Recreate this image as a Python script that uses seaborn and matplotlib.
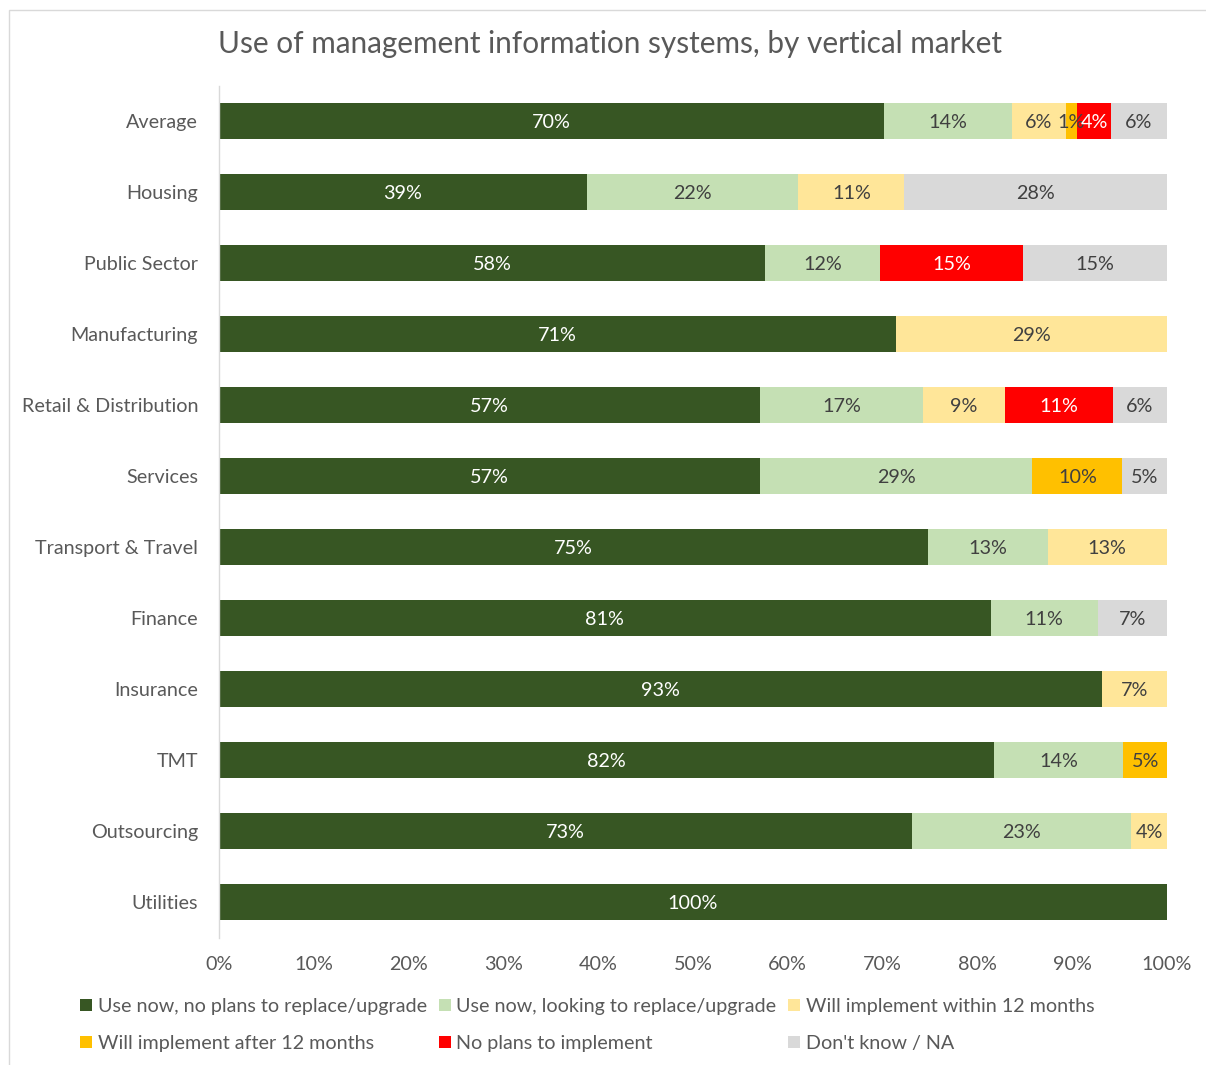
import matplotlib
matplotlib.use("Agg")
import matplotlib.pyplot as plt
import seaborn as sns
import numpy as np
from matplotlib.patches import Patch, Rectangle

categories = ["Average", "Housing", "Public Sector", "Manufacturing",
              "Retail & Distribution", "Services", "Transport & Travel",
              "Finance", "Insurance", "TMT", "Outsourcing", "Utilities"]
series_names = ["Use now, no plans to replace/upgrade",
                "Use now, looking to replace/upgrade",
                "Will implement within 12 months",
                "Will implement after 12 months",
                "No plans to implement",
                "Don't know / NA"]
use_no_plans = [70.1, 38.8, 57.6, 71.4, 57.1, 57.1, 74.8, 81.4, 93.1, 81.8, 73.1, 100.0]
use_replace = [13.6, 22.3, 12.1, 0.0, 17.2, 28.7, 12.6, 11.3, 0.0, 13.6, 23.1, 0.0]
within_12 = [5.6, 11.2, 0.0, 28.6, 8.6, 0.0, 12.6, 0.0, 6.9, 0.0, 3.8, 0.0]
after_12 = [1.2, 0.0, 0.0, 0.0, 0.0, 9.5, 0.0, 0.0, 0.0, 4.6, 0.0, 0.0]
no_plans = [3.6, 0.0, 15.1, 0.0, 11.4, 0.0, 0.0, 0.0, 0.0, 0.0, 0.0, 0.0]
dont_know = [5.9, 27.7, 15.2, 0.0, 5.7, 4.7, 0.0, 7.3, 0.0, 0.0, 0.0, 0.0]
x_ticks = [0, 10, 20, 30, 40, 50, 60, 70, 80, 90, 100]

colors = ["#375623", "#C5E0B4", "#FFE699", "#FFC000", "#FF0000", "#D9D9D9"]
label_colors = ["white", "#404040", "#404040", "#404040", "white", "#404040"]

sns.set_theme(style="white")
plt.rcParams["font.family"] = ["Lato", "DejaVu Sans"]

FS = 14.2

series = [use_no_plans, use_replace, within_12, after_12, no_plans, dont_know]
data = np.array(series)
cum = np.cumsum(data, axis=0)

fig = plt.figure(figsize=(12.06, 10.65), dpi=100)
ax = fig.add_axes([219/1206, 127.5/1065, 948/1206, 852/1065])

for k in reversed(range(len(series))):
    sns.barplot(x=list(cum[k]), y=categories, color=colors[k], width=0.5,
                orient="h", ax=ax, saturation=1, edgecolor="none", linewidth=0)

for k in range(len(series)):
    for i, v in enumerate(series[k]):
        if v > 0:
            center = cum[k][i] - v / 2
            ax.text(center, i, f"{int(np.floor(v + 0.5))}%", ha="center",
                    va="center_baseline", color=label_colors[k], fontsize=FS)

ax.set_xlim(0, 100)
ax.set_xticks(x_ticks)
ax.set_xticklabels([f"{t}%" for t in x_ticks])
ax.set_xlabel("")
ax.set_ylabel("")
ax.tick_params(axis="both", length=0, labelsize=FS, colors="#595959")
ax.tick_params(axis="x", pad=13)
ax.tick_params(axis="y", pad=15)
for s in ["top", "right", "bottom"]:
    ax.spines[s].set_visible(False)
ax.spines["left"].set_color("#D9D9D9")
ax.spines["left"].set_linewidth(1)
ax.grid(False)

fig.text(610/1206, 1 - 44/1065, "Use of management information systems, by vertical market",
         ha="center", va="center", fontsize=21.4, color="#595959")

order = [0, 3, 1, 4, 2, 5]
handles = [Patch(facecolor=colors[i], edgecolor="none") for i in order]
labels = [series_names[i] for i in order]
leg = fig.legend(handles, labels, ncol=3, loc="upper left",
                 bbox_to_anchor=(80/1206, 1 - 998/1065), frameon=False,
                 fontsize=FS, handlelength=0.6, handleheight=0.6,
                 handletextpad=0.3, columnspacing=0.6, labelspacing=1.0,
                 borderpad=0, borderaxespad=0)
for t in leg.get_texts():
    t.set_color("#595959")

fig.patches.append(Rectangle((9/1206, -0.5), 2.0, 0.5 + (1065 - 10)/1065,
                             transform=fig.transFigure, fill=False,
                             edgecolor="#D9D9D9", linewidth=1))

fig.savefig("out.png", dpi=100)
